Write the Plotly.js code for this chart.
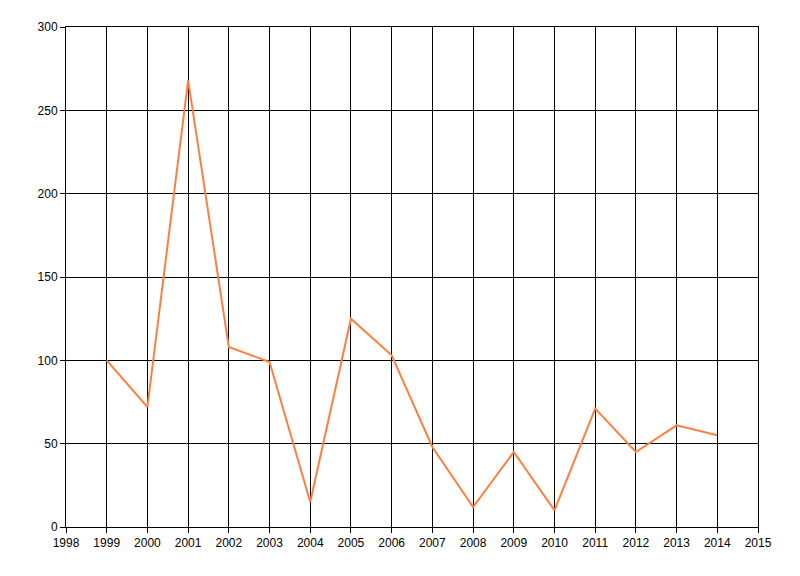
<!DOCTYPE html>
<html>
<head>
<meta charset="utf-8">
<script src="https://cdn.plot.ly/plotly-3.0.1.min.js"></script>
<style>html,body{margin:0;padding:0;background:#fff;}#chart{width:800px;height:576px;}</style>
</head>
<body>
<div id="chart"></div>
<script>
const years = [1999, 2000, 2001, 2002, 2003, 2004, 2005, 2006, 2007, 2008, 2009, 2010, 2011, 2012, 2013, 2014];
const values = [100, 72, 268, 108, 99, 15, 125, 103, 48, 12, 45, 10, 71, 45, 61, 55];

const trace = {
  x: years,
  y: values,
  type: 'scatter',
  mode: 'lines',
  line: {color: 'rgb(255,127,63)', width: 2},
  hoverinfo: 'x+y'
};

const axisCommon = {
  showgrid: true,
  gridcolor: '#000',
  gridwidth: 1,
  showline: true,
  linecolor: '#000',
  linewidth: 1,
  mirror: true,
  ticks: 'outside',
  ticklen: 5,
  tickcolor: '#000',
  tickfont: {family: 'Liberation Sans, Arial, sans-serif', size: 12, color: '#000'},
  zeroline: false,
  fixedrange: true
};

const layout = {
  width: 800,
  height: 576,
  margin: {l: 66, r: 42, t: 27, b: 49},
  paper_bgcolor: '#fff',
  plot_bgcolor: '#fff',
  showlegend: false,
  xaxis: Object.assign({}, axisCommon, {range: [1998, 2015], tick0: 1998, dtick: 1, ticklabelstandoff: 0}),
  yaxis: Object.assign({}, axisCommon, {range: [0, 300], tick0: 0, dtick: 50})
};

Plotly.newPlot('chart', [trace], layout, {displayModeBar: false, staticPlot: true});
</script>
</body>
</html>
